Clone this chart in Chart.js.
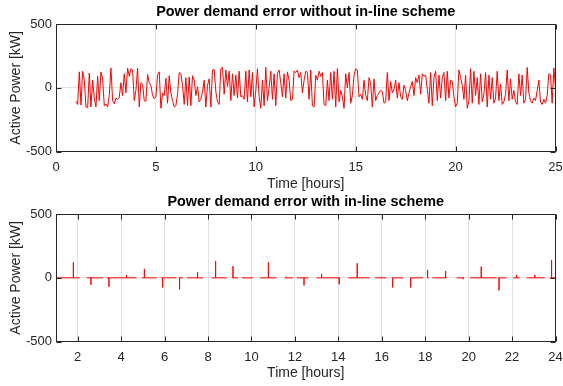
<!DOCTYPE html>
<html>
<head>
<meta charset="utf-8">
<title>Power demand error</title>
<script src="https://cdn.jsdelivr.net/npm/chart.js@4.4.0/dist/chart.umd.min.js"></script>
<style>
  html, body { margin: 0; padding: 0; background: #fff; }
  .wrap { position: relative; width: 563px; height: 386px; }
  .wrap canvas { position: absolute; left: 0; }
  #chartWithout { top: 0; }
  #chartWith { top: 193px; }
</style>
</head>
<body>
<div class="wrap">
  <canvas id="chartWithout" width="563" height="193"></canvas>
  <canvas id="chartWith" width="563" height="193"></canvas>
</div>
<script>
// DATA
const powerTicks      = [-500, 0, 500];
const hourTicksTop    = [0, 5, 10, 15, 20, 25];
const hourTicksBottom = [2, 4, 6, 8, 10, 12, 14, 16, 18, 20, 22, 24];

// 5 minute samples starting at hour 1 (kW)
const sampleStart = 1;
const sampleStep  = 1 / 12;
const errorWithout = [
  -105, -130,  125, -135,  130,   60, -150, -155,  115, -150,   60,  -80,
  -150,   90, -100,  125,   70, -140, -125, -150,  -60,  155, -100, -125,
   -80,  -90,  -75,   40,  -60,  110,  -40,  155,   90,  150,  140, -100,
   -20,  155, -150,   40,   30, -100, -105,  105,   40,   20,  -60,  -85,
   -70,  100,  125, -160,  -40,  -60,   75, -120,   95,  -40, -100, -150,
  -140,  -50,  120,  110,   20, -130,   80, -140,   85, -140,   95,   60,
   -60,   10, -110,  -90,  -30,   60, -150,   20,   70, -150,  140,  145,
   -30, -110, -130,  150,  160,  -50,  140,   10,  130, -100,  110,  -60,
   100,  -80,  130,  -70,  -60,  -90,  130, -110,  140,  -70,  120, -150,
   -20,  150,  -70, -160,   60, -140,  160, -100,    0,  130,  -90,  110,
  -140,  115,  140,   40,  -70,  110,  -80,  125,   60, -100,  -90,  130,
   120,  140,   80,  120,  -40,   60,  130,  120,  -90,  140, -140, -150,
   100,   60,  130,   90,  120, -130, -140,   60, -100,  120,  -90,  130,
  -150,  150, -110,  -20,  -70, -160,  110,    0,  120, -120,  -60,  100,
   150,  140,  -70,  -50,  -90,   60,  -60, -100,   80,   30, -150,   70,
  -100,  -60,  -40,  -20,  -30, -120, -110,  120, -100,   50,  -40,  -10,
    60,  -80,   40,  -70,  -90,   20,  -20, -100,  -40,   10,   50,  -60,
    80,   40,  100,  -50,  110,   90,  100,  -10, -120,  120, -140,   80,
   130, -100,  100,  -80,   80,  120, -100,  130,  -80,   60,   50,  -70,
  -150, -120,  140,   80,   20,  -90,  100, -160, -100,  150, -120,  130,
   -60,   80, -130,  110, -110,  -50,  120, -150,  100,  -90,   80, -120,
   -80,  130, -100,   30, -130, -110,  -50,  140, -100,   70,  -90,  -20,
  -110, -130,  110,  -60,  100, -120,  -90,  160,  -40, -100, -120,  -80,
  -100,  -20,   60, -110, -130,  -90, -120,  -60,  110,  100, -120,  155,
     0
];

// in-line scheme: flat at zero, short corrections at each update
const withStartHour  = 1;
const withStartValue = -100;
const withEndHour    = 24;
const spikeHours  = [1.80, 2.61, 3.44, 4.25, 5.07, 5.91, 6.69, 7.52, 8.35, 9.15, 10.78, 11.59,
                     12.42, 13.23, 14.04, 14.87, 16.50, 17.33, 18.11, 18.94, 19.75, 20.58, 21.40,
                     22.21, 23.05, 23.82];
const spikeValues = [122, -54, -70, 23, 70, -75, -91, 44, 132, 91, 122, 8,
                     -60, 31, -50, 114, -75, -75, 62, 54, -10, 88, -98,
                     23, 23, 140];
const gapStart = [2.10, 3.18, 4.71, 5.64, 6.55, 6.86, 7.78, 8.86, 9.39, 10.08, 11.16, 11.93,
                  12.62, 14.08, 15.46, 16.22, 16.99, 17.91, 18.17, 18.99, 19.79, 21.29, 21.75,
                  22.36, 23.51];
const gapEnd   = [2.41, 3.33, 4.95, 5.83, 6.66, 7.02, 8.17, 9.12, 9.55, 10.39, 11.54, 12.08,
                  13.00, 14.46, 15.69, 16.46, 17.30, 18.10, 18.33, 19.45, 20.06, 21.37, 22.05,
                  22.67, 23.74];

// STYLE
const FONT       = "'Liberation Sans', Arial, Helvetica, sans-serif";
const TEXT_COLOR = '#262626';
const GRID_COLOR = '#e0e0e0';
const LINE_COLOR = '#ff0000';

Chart.defaults.font.family = FONT;
Chart.defaults.color = TEXT_COLOR;

// box around the plot with inward tick marks on all four sides,
// plus the title centred over the axes
const framePlugin = {
  id: 'frame',
  afterDraw(chart, args, opts) {
    const ctx = chart.ctx;
    const a = chart.chartArea;
    const x = chart.scales.x;
    const y = chart.scales.y;
    const left = Math.round(a.left) + 0.5, right = Math.round(a.right) - 0.5;
    const top = Math.round(a.top) + 0.5, bottom = Math.round(a.bottom) - 0.5;
    ctx.save();
    ctx.strokeStyle = TEXT_COLOR;
    ctx.lineWidth = 1;
    ctx.beginPath();
    x.ticks.forEach(function(t) {
      const px = Math.round(x.getPixelForValue(t.value)) + 0.5;
      ctx.moveTo(px, bottom); ctx.lineTo(px, bottom - 5);
      ctx.moveTo(px, top);    ctx.lineTo(px, top + 5);
    });
    y.ticks.forEach(function(t) {
      const py = Math.round(y.getPixelForValue(t.value)) + 0.5;
      ctx.moveTo(left, py);  ctx.lineTo(left + 5, py);
      ctx.moveTo(right, py); ctx.lineTo(right - 5, py);
    });
    ctx.stroke();
    ctx.strokeRect(left, top, right - left, bottom - top);

    ctx.fillStyle = '#000';
    ctx.font = 'bold 14.4px ' + FONT;
    ctx.textAlign = 'center';
    ctx.textBaseline = 'middle';
    ctx.fillText(opts.text, (a.left + a.right) / 2, a.top - opts.gap);
    ctx.restore();
  }
};

function withoutPoints() {
  return errorWithout.map(function(v, i) {
    return { x: sampleStart + i * sampleStep, y: v };
  });
}

function withPoints() {
  var pts = [{ x: withStartHour, y: withStartValue }, { x: withStartHour, y: 0 }];
  spikeHours.forEach(function(t, i) {
    pts.push({ x: t, y: 0 }, { x: t, y: spikeValues[i] }, { x: t, y: 0 });
  });
  gapStart.forEach(function(g, i) {
    pts.push({ x: g, y: 0 }, { x: (g + gapEnd[i]) / 2, y: null }, { x: gapEnd[i], y: 0 });
  });
  pts.push({ x: withEndHour, y: 0 });
  return pts.sort(function(p, q) { return p.x - q.x; });
}

function makeChart(id, opts) {
  return new Chart(document.getElementById(id), {
    type: 'line',
    data: {
      datasets: [{
        data: opts.points,
        borderColor: LINE_COLOR,
        borderWidth: 1,
        pointRadius: 0,
        tension: 0,
        spanGaps: false
      }]
    },
    options: {
      responsive: false,
      animation: false,
      devicePixelRatio: 1,
      layout: { padding: { left: 0, right: 7.5, top: opts.areaTop, bottom: 0 } },
      plugins: {
        legend: { display: false },
        tooltip: { enabled: false },
        title: { display: false },
        frame: { text: opts.title, gap: 11.5 }
      },
      scales: {
        x: {
          type: 'linear',
          min: opts.xMin,
          max: opts.xMax,
          afterBuildTicks: function(scale) {
            scale.ticks = opts.xTicks.map(function(v) { return { value: v }; });
          },
          afterFit: function(scale) {
            scale.height = opts.xHeight;
            scale.paddingLeft = 0;
            scale.paddingRight = 0;
          },
          border: { display: false },
          grid: { color: GRID_COLOR, drawTicks: false },
          ticks: { font: { size: 13 }, padding: 7.5, maxRotation: 0, autoSkip: false },
          title: {
            display: true,
            text: 'Time [hours]',
            font: { size: 14 },
            padding: { top: 0, bottom: opts.xTitleBottom }
          }
        },
        y: {
          min: -500,
          max: 500,
          afterBuildTicks: function(scale) {
            scale.ticks = powerTicks.map(function(v) { return { value: v }; });
          },
          afterFit: function(scale) {
            scale.width = 56;
            scale.paddingTop = 0;
            scale.paddingBottom = 0;
          },
          border: { display: false },
          grid: { color: GRID_COLOR, drawTicks: false },
          ticks: { font: { size: 13 }, padding: 4 },
          title: {
            display: true,
            text: 'Active Power [kW]',
            font: { size: 14 },
            padding: { top: 7.6, bottom: 0 }
          }
        }
      }
    },
    plugins: [framePlugin]
  });
}

makeChart('chartWithout', {
  title: 'Power demand error without in-line scheme',
  points: withoutPoints(),
  xMin: 0, xMax: 25, xTicks: hourTicksTop,
  areaTop: 24, xHeight: 41.3, xTitleBottom: 0.6
});

makeChart('chartWith', {
  title: 'Power demand error with in-line scheme',
  points: withPoints(),
  xMin: 1, xMax: 24, xTicks: hourTicksBottom,
  areaTop: 21, xHeight: 44.3, xTitleBottom: 4.6
});
</script>
</body>
</html>
